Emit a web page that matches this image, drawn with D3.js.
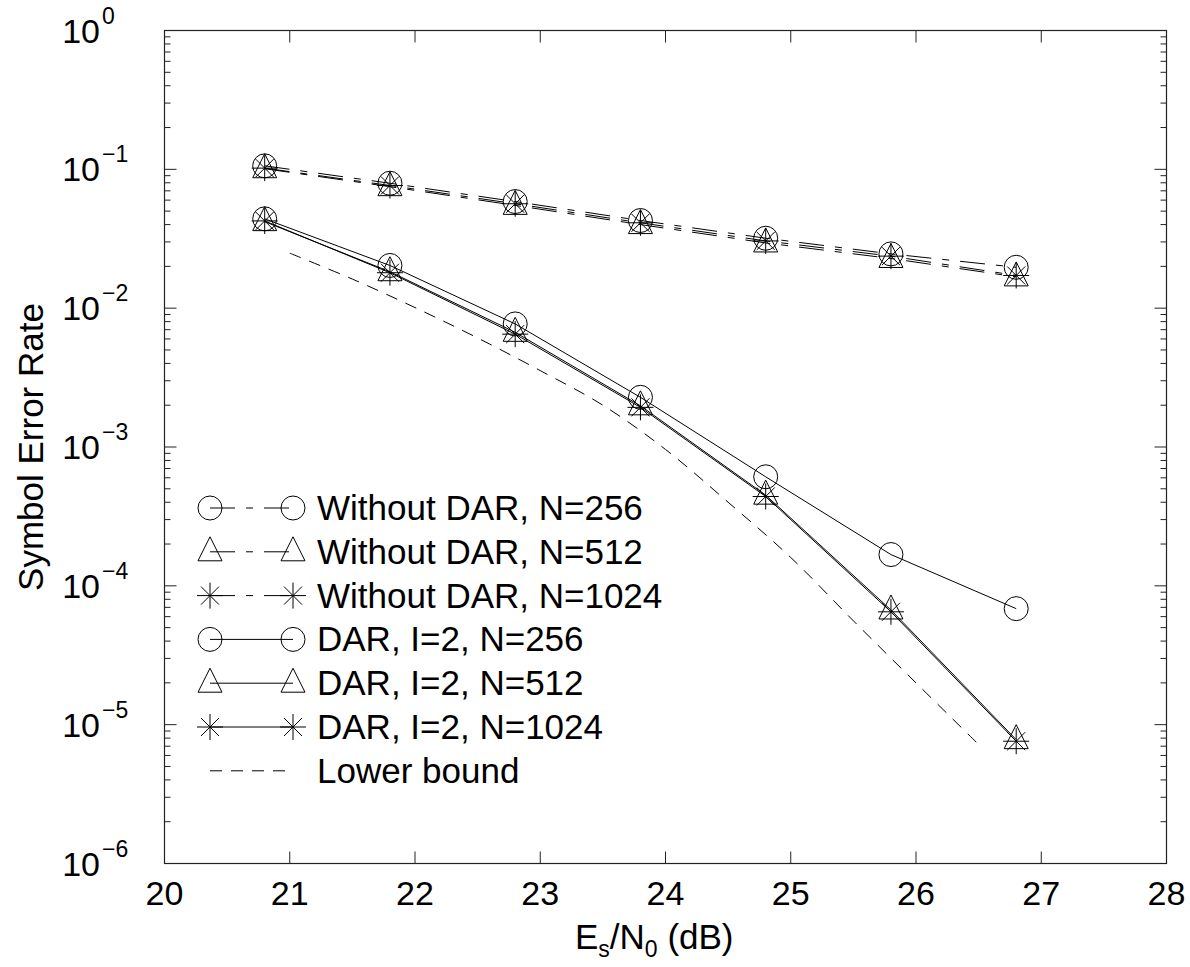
<!DOCTYPE html>
<html>
<head>
<meta charset="utf-8">
<script src="https://cdn.jsdelivr.net/npm/d3@7"></script>
<style>
    body { margin: 0; background: #fff; }
    svg { display: block; font-family: "Liberation Sans", Arial, Helvetica, sans-serif; }
</style>
</head>
<body>
<svg id="chart"></svg>
<script>
// Es/N0 values where the simulated points sit
const snrDb = [20.8, 21.8, 22.8, 23.8, 24.8, 25.8, 26.8];

// symbol error rate, without DAR (dash-dot curves)
const serNoDar256 = [0.106, 0.0794, 0.0586, 0.0428, 0.0319, 0.0246, 0.0197];
const serNoDar512 = [0.101, 0.075, 0.055, 0.040, 0.0295, 0.0228, 0.0168];
const serNoDar1024 = [0.102, 0.0765, 0.0565, 0.0412, 0.0305, 0.0237, 0.0172];

// symbol error rate, DAR with I=2 (solid curves)
const serDar256 = [0.044, 0.0203, 0.0077, 0.00228, 6.1e-4, 1.68e-4, 6.85e-5];
const serDar512 = [0.042, 0.0183, 0.0067, 0.00198, 4.5e-4, 6.7e-5, 7.8e-6];
const serDar1024 = [0.0425, 0.0180, 0.0065, 0.00193, 4.4e-4, 6.5e-5, 7.6e-6];

// lower bound (dashed, no markers)
const boundSnr = [21.0, 21.5, 22.0, 22.5, 23.0, 23.5, 24.0, 24.5, 25.0, 25.5, 26.0, 26.5];
const boundSer = [0.0249, 0.0162, 0.0101, 0.0061, 0.00355, 0.0020, 9.6e-4, 4.0e-4, 1.6e-4, 5.6e-5, 2.0e-5, 7.2e-6];

const xTicks = [20, 21, 22, 23, 24, 25, 26, 27, 28];
const yExponents = [0, -1, -2, -3, -4, -5, -6];

const legendLabels = [
    "Without DAR, N=256",
    "Without DAR, N=512",
    "Without DAR, N=1024",
    "DAR, I=2, N=256",
    "DAR, I=2, N=512",
    "DAR, I=2, N=1024",
    "Lower bound"
];

(function () {
    const width = 1190, height = 967;
    const left = 164.5, right = 1166.5, top = 30.5, bottom = 863.5;
    const dashDot = "25,11,7,11";
    const dashed = "12,9";

    const svg = d3.select("#chart")
        .attr("width", width)
        .attr("height", height)
        .attr("viewBox", `0 0 ${width} ${height}`);

    const x = d3.scaleLinear().domain([20, 28]).range([left, right]);
    const y = d3.scaleLog().domain([1e-6, 1]).range([bottom, top]);

    const series = [
        {values: serNoDar256, marker: "circle", dash: dashDot},
        {values: serNoDar512, marker: "triangle", dash: dashDot},
        {values: serNoDar1024, marker: "star", dash: dashDot},
        {values: serDar256, marker: "circle", dash: null},
        {values: serDar512, marker: "triangle", dash: null},
        {values: serDar1024, marker: "star", dash: null}
    ];

    function markerPath(type) {
        switch (type) {
            case "circle":
                return "M12,0A12,12 0 1,1 -12,0A12,12 0 1,1 12,0Z";
            case "triangle":
                return "M0,-15L12,9L-12,9Z";
            case "star":
                return "M0,-13V13M-13,0H13M-9,-9L9,9M-9,9L9,-9";
        }
    }

    function drawMarker(g, type, cx, cy) {
        g.append("path")
            .attr("d", markerPath(type))
            .attr("transform", `translate(${cx},${cy})`)
            .attr("fill", "none")
            .attr("stroke", "#000")
            .attr("stroke-width", 1);
    }

    // frame
    svg.append("rect")
        .attr("x", left).attr("y", top)
        .attr("width", right - left).attr("height", bottom - top)
        .attr("fill", "none")
        .attr("stroke", "#222")
        .attr("stroke-width", 1.2);

    // ticks
    const ticks = svg.append("g").attr("stroke", "#222").attr("stroke-width", 1);
    xTicks.forEach(t => {
        ticks.append("line").attr("x1", x(t)).attr("x2", x(t)).attr("y1", bottom).attr("y2", bottom - 12);
        ticks.append("line").attr("x1", x(t)).attr("x2", x(t)).attr("y1", top).attr("y2", top + 12);
    });
    yExponents.forEach(e => {
        const v = Math.pow(10, e);
        ticks.append("line").attr("x1", left).attr("x2", left + 12).attr("y1", y(v)).attr("y2", y(v));
        ticks.append("line").attr("x1", right).attr("x2", right - 12).attr("y1", y(v)).attr("y2", y(v));
        if (e > -6) {
            for (let m = 2; m <= 9; m++) {
                const mv = m * v / 10;
                ticks.append("line").attr("x1", left).attr("x2", left + 6).attr("y1", y(mv)).attr("y2", y(mv));
                ticks.append("line").attr("x1", right).attr("x2", right - 6).attr("y1", y(mv)).attr("y2", y(mv));
            }
        }
    });

    // tick labels
    svg.append("g")
        .selectAll("text")
        .data(xTicks)
        .enter()
        .append("text")
        .attr("x", d => x(d))
        .attr("y", 905)
        .attr("text-anchor", "middle")
        .attr("font-size", 34)
        .text(d => d);

    const yLabels = svg.append("g")
        .selectAll("g")
        .data(yExponents)
        .enter()
        .append("g");
    yLabels.append("text")
        .attr("x", 100)
        .attr("y", d => y(Math.pow(10, d)) + 12)
        .attr("text-anchor", "end")
        .attr("font-size", 34)
        .text("10");
    yLabels.append("text")
        .attr("x", 102)
        .attr("y", d => y(Math.pow(10, d)) - 7)
        .attr("font-size", 23)
        .text(d => d === 0 ? "0" : "\u2212" + Math.abs(d));

    // axis titles
    svg.append("text")
        .attr("transform", `translate(43,${(top + bottom) / 2}) rotate(-90)`)
        .attr("text-anchor", "middle")
        .attr("font-size", 35)
        .text("Symbol Error Rate");

    const xTitle = svg.append("text")
        .attr("x", 575)
        .attr("y", 949)
        .attr("font-size", 35);
    xTitle.append("tspan").text("E");
    xTitle.append("tspan").attr("font-size", 23).attr("dy", 8).text("s");
    xTitle.append("tspan").attr("dy", -8).text("/N");
    xTitle.append("tspan").attr("font-size", 23).attr("dy", 8).text("0");
    xTitle.append("tspan").attr("dy", -8).text(" (dB)");

    // curves
    const line = d3.line()
        .x(d => x(d[0]))
        .y(d => y(d[1]));

    const plot = svg.append("g");
    series.forEach(s => {
        const pts = snrDb.map((v, i) => [v, s.values[i]]);
        plot.append("path")
            .attr("d", line(pts))
            .attr("fill", "none")
            .attr("stroke", "#000")
            .attr("stroke-width", 1)
            .attr("stroke-dasharray", s.dash);
        pts.forEach(p => drawMarker(plot, s.marker, x(p[0]), y(p[1])));
    });

    const boundLine = d3.line()
        .x(d => x(d[0]))
        .y(d => y(d[1]))
        .curve(d3.curveCatmullRom);

    plot.append("path")
        .attr("d", boundLine(boundSnr.map((v, i) => [v, boundSer[i]])))
        .attr("fill", "none")
        .attr("stroke", "#000")
        .attr("stroke-width", 1)
        .attr("stroke-dasharray", dashed);

    // legend
    const legend = svg.append("g");
    const rowY = i => 508 + i * 43.8;
    const legendItems = series.map(s => ({marker: s.marker, dash: s.dash}))
        .concat([{marker: null, dash: dashed}]);

    legendItems.forEach((item, i) => {
        const yy = rowY(i);
        legend.append("line")
            .attr("x1", 210).attr("x2", 293)
            .attr("y1", yy).attr("y2", yy)
            .attr("stroke", "#000")
            .attr("stroke-width", 1)
            .attr("stroke-dasharray", item.dash);
        if (item.marker) {
            drawMarker(legend, item.marker, 210, yy);
            drawMarker(legend, item.marker, 293, yy);
        }
        legend.append("text")
            .attr("x", 317)
            .attr("y", yy + 12)
            .attr("font-size", 35)
            .text(legendLabels[i]);
    });
})();
</script>
</body>
</html>
